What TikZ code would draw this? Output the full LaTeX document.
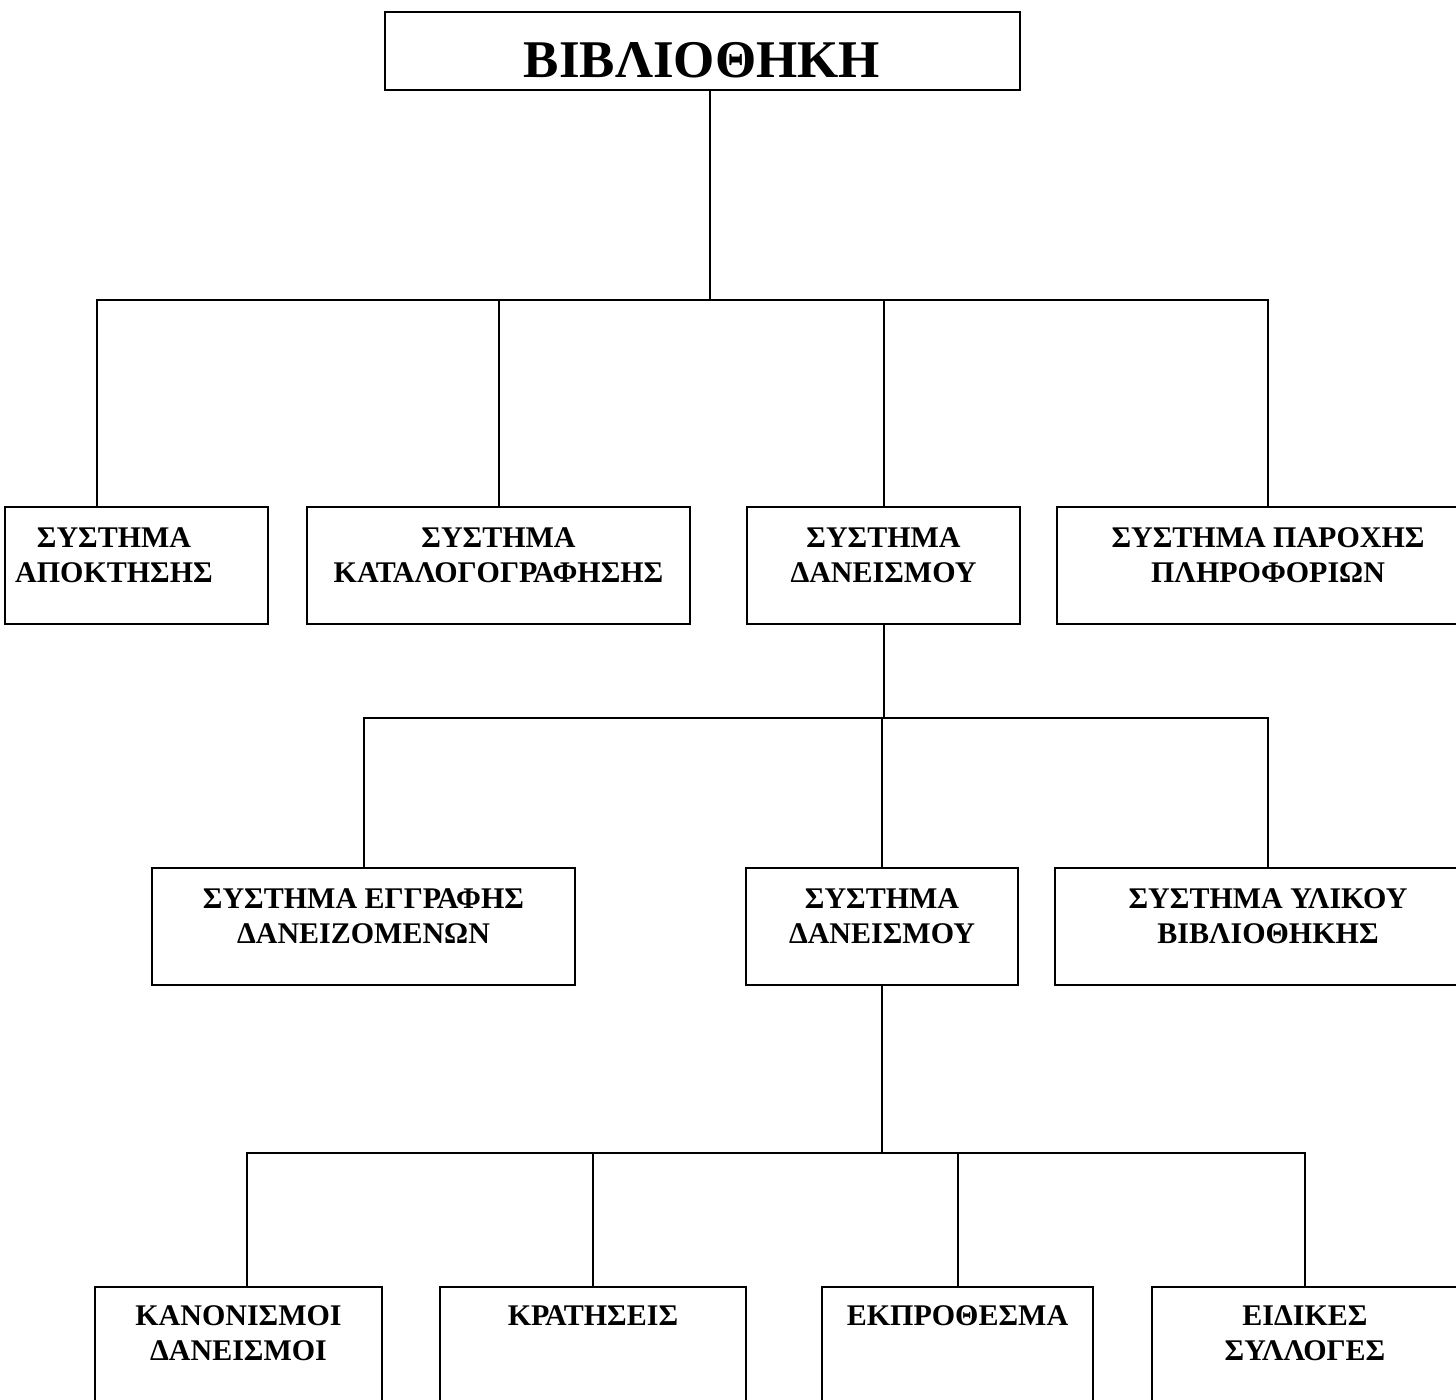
\documentclass[tikz,border=0pt]{standalone}
\usepackage{fontspec}
\setmainfont{Liberation Serif}
\usetikzlibrary{positioning, fit}

\begin{document}
\begin{tikzpicture}[
    x=0.5pt, y=-0.5pt,
    box/.style={draw=black, line width=1pt, inner sep=0pt},
    lbl/.style={anchor=north, inner sep=0pt, align=center,
                font=\fontsize{15}{17.8}\selectfont\bfseries},
    link/.style={draw=black, line width=1pt},
  ]
  \useasboundingbox (0,0) rectangle (1456,1400);
  \clip (0,0) rectangle (1456,1400);

  % root
  \node[box, fit={(385,12) (1020,90)}] (lib) {};
  \node[inner sep=0pt, font=\fontsize{26.5}{30}\selectfont\bfseries] (libtxt) at (702,60) {ΒΙΒΛΙΟΘΗΚΗ};

  % first level
  \node[box, fit={(5,507) (268,624)}]     (acq)  {};
  \node[box, fit={(307,507) (690,624)}]   (cat)  {};
  \node[box, fit={(747,507) (1020,624)}]  (loan) {};
  \node[box, fit={(1057,507) (1479,624)}] (info) {};
  \node[lbl, below=10.5pt of acq.north, xshift=-11.25pt] (acqtxt) {ΣΥΣΤΗΜΑ\\ΑΠΟΚΤΗΣΗΣ};
  \node[lbl, below=10.5pt of cat.north]  (cattxt)  {ΣΥΣΤΗΜΑ\\ΚΑΤΑΛΟΓΟΓΡΑΦΗΣΗΣ};
  \node[lbl, below=10.5pt of loan.north] (loantxt) {ΣΥΣΤΗΜΑ\\ΔΑΝΕΙΣΜΟΥ};
  \node[lbl, below=10.5pt of info.north] (infotxt) {ΣΥΣΤΗΜΑ ΠΑΡΟΧΗΣ\\ΠΛΗΡΟΦΟΡΙΩΝ};

  \coordinate (j1) at (710,300);
  \draw[link] ([xshift=3.75pt]lib.south) -- (j1);
  \draw[link] ([xshift=-19.75pt]acq.north) |- (info.north |- j1) -- (info.north);
  \draw[link] (cat.north) -- (cat.north |- j1);
  \draw[link] (loan.north) -- (loan.north |- j1);

  % second level
  \node[box, fit={(152,868) (575,985)}]   (reg)   {};
  \node[box, fit={(746,868) (1018,985)}]  (loan2) {};
  \node[box, fit={(1055,868) (1481,985)}] (mat)   {};
  \node[lbl, below=10.5pt of reg.north]   (regtxt)   {ΣΥΣΤΗΜΑ ΕΓΓΡΑΦΗΣ\\ΔΑΝΕΙΖΟΜΕΝΩΝ};
  \node[lbl, below=10.5pt of loan2.north] (loan2txt) {ΣΥΣΤΗΜΑ\\ΔΑΝΕΙΣΜΟΥ};
  \node[lbl, below=10.5pt of mat.north]   (mattxt)   {ΣΥΣΤΗΜΑ ΥΛΙΚΟΥ\\ΒΙΒΛΙΟΘΗΚΗΣ};

  \coordinate (j2) at (883.5,718);
  \draw[link] (loan.south) -- (j2);
  \draw[link] (reg.north) |- (mat.north |- j2) -- (mat.north);
  \draw[link] (loan2.north) -- (loan2.north |- j2);

  % third level
  \node[box, fit={(95,1287) (382,1420)}]    (rules) {};
  \node[box, fit={(440,1287) (746,1420)}]   (hold)  {};
  \node[box, fit={(822,1287) (1093,1420)}]  (late)  {};
  \node[box, fit={(1152,1287) (1458,1420)}] (spec)  {};
  \node[lbl, below=9.5pt of rules.north] (rulestxt) {ΚΑΝΟΝΙΣΜΟΙ\\ΔΑΝΕΙΣΜΟΙ};
  \node[lbl, below=9.5pt of hold.north]  (holdtxt)  {ΚΡΑΤΗΣΕΙΣ};
  \node[lbl, below=9.5pt of late.north]  (latetxt)  {ΕΚΠΡΟΘΕΣΜΑ};
  \node[lbl, below=9.5pt of spec.north]  (spectxt)  {ΕΙΔΙΚΕΣ\\ΣΥΛΛΟΓΕΣ};

  \coordinate (j3) at (882,1153);
  \draw[link] (loan2.south) -- (j3);
  \draw[link] ([xshift=4.25pt]rules.north) |- (spec.north |- j3) -- (spec.north);
  \draw[link] (hold.north) -- (hold.north |- j3);
  \draw[link] (late.north) -- (late.north |- j3);
\end{tikzpicture}
\end{document}
